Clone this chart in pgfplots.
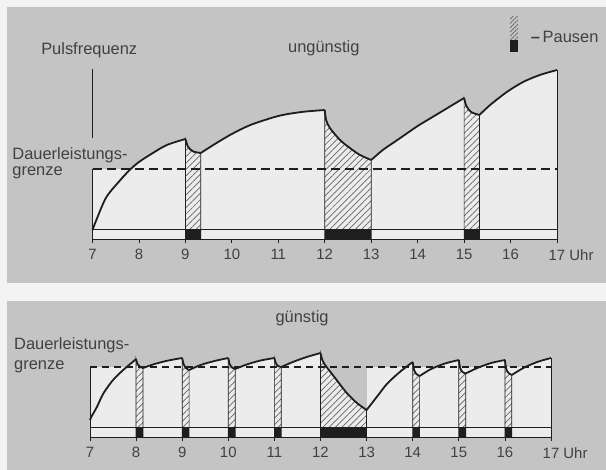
\documentclass[border=0pt]{standalone}
\usepackage{fontspec}
\setmainfont{Liberation Sans}
\usepackage{pgfplots}
\pgfplotsset{compat=1.18}
\usetikzlibrary{patterns.meta}

\definecolor{bg}{RGB}{196,196,196}
\definecolor{paper}{RGB}{236,236,236}
\definecolor{margin}{RGB}{243,243,243}
\definecolor{ink}{RGB}{30,30,30}
\definecolor{txt}{RGB}{65,65,65}
\definecolor{hatchc}{RGB}{100,100,100}

\tikzset{lbl/.style={text=txt, font=\fontsize{16.5}{19}\selectfont}}
\pgfplotsset{
  panel/.style={
    scale only axis, width=599bp,
    axis x line=middle, axis y line=none,
    x axis line style={draw=none},
    axis background/.style={fill=bg},
    xtick={7,...,17},
    xticklabels={7,8,9,10,11,12,13,14,15,16,{17\rlap{ Uhr}}},
    xticklabel style={text=txt, font=\fontsize{15}{17}\selectfont, yshift=-3bp},
    /pgf/number format/assume math mode=true,
    tick align=outside, major tick length=4bp,
    xtick style={ink, line width=0.8bp},
    ytick=\empty,
    clip=false,
  },
  seg/.style={smooth, tension=0.5},
  curve/.style={seg, ink, line width=1.8bp, line join=round},
  wfill/.style={seg, fill=paper, draw=none},
  pause/.style={seg, pattern={Lines[angle=45,distance=4.5bp,line width=0.7bp]}, pattern color=hatchc, draw=ink, line width=0.7bp},
}
\newcommand\wseg[1]{\addplot[wfill] table {#1} \closedcycle;}
\newcommand\pseg[1]{\addplot[wfill] table {#1} \closedcycle; \addplot[pause] table {#1} \closedcycle;}
\newcommand\cseg[1]{\addplot[curve] table {#1};}

% oben: ungünstig
\pgfplotstableread{
t y
7 9
7.1 21
7.3 42
7.6 59
7.8 69
8 77
8.3 86
8.6 94
9 100
}\uA
\pgfplotstableread{
t y
9 100
9.06 92
9.17 87.5
9.33 86
}\uPa
\pgfplotstableread{
t y
9.33 86
9.67 96
10 105
10.4 114
11 123
11.5 127
12 129
}\uB
\pgfplotstableread{
t y
12 129
12.03 119
12.11 111
12.33 99
12.54 91
12.76 84
13 79
}\uPb
\pgfplotstableread{
t y
13 79
13.25 89
13.5 97
13.75 105
14 113
14.25 120
14.5 127
14.75 134
15 141
}\uC
\pgfplotstableread{
t y
15 141
15.05 133
15.15 127
15.33 124
}\uPc
\pgfplotstableread{
t y
15.33 124
15.56 134
15.92 147
16.27 157
16.63 164
17 169
}\uD

% unten: günstig
\pgfplotstableread{
t y
7 17
7.04 21
7.15 30
7.29 43.5
7.5 57
7.72 67
7.9 74
8 78
}\gA
\pgfplotstableread{
t y
8 78
8.03 73
8.08 70.5
8.15 69
}\gPa
\pgfplotstableread{
t y
8.15 69
8.4 73
8.7 76.5
9 79
}\gB
\pgfplotstableread{
t y
9 79
9.03 73
9.08 69
9.15 67
}\gPb
\pgfplotstableread{
t y
9.15 67
9.4 72
9.7 76
10 79
}\gC
\pgfplotstableread{
t y
10 79
10.03 73
10.08 69.5
10.15 68
}\gPc
\pgfplotstableread{
t y
10.15 68
10.4 72.5
10.7 76.5
11 79
}\gD
\pgfplotstableread{
t y
11 79
11.03 74
11.08 71
11.15 70
}\gPd
\pgfplotstableread{
t y
11.15 70
11.4 75
11.7 80
12 84
}\gE
\pgfplotstableread{
t y
12 84
12.04 77
12.1 72
12.2 66
12.35 57
12.57 44
12.79 34
13 27
}\gPe
\pgfplotstableread{
t y
13 27
13.22 40
13.44 53
13.72 65
14 75
}\gF
\pgfplotstableread{
t y
14 75
14.03 67
14.08 63
14.15 61
}\gPf
\pgfplotstableread{
t y
14.15 61
14.4 68
14.7 73.5
15 77
}\gG
\pgfplotstableread{
t y
15 77
15.03 69
15.08 65
15.15 63.5
}\gPg
\pgfplotstableread{
t y
15.15 63.5
15.4 69
15.7 74
16 77
}\gH
\pgfplotstableread{
t y
16 77
16.03 68
16.08 64
16.15 62
}\gPh
\pgfplotstableread{
t y
16.15 62
16.4 69
16.7 75
17 79
}\gI

\begin{document}
\begin{tikzpicture}
\fill[margin] (0,0) rectangle (606bp,470bp);

\begin{axis}[panel, at={(7bp,187bp)}, anchor=south west, height=276bp,
  xmin=5.1593, xmax=18.055, ymin=-44, ymax=232]
  % helle Fläche
  \addplot[fill=paper, draw=none] coordinates {(7,70) (17,70)} \closedcycle;
  \wseg{\uA}\wseg{\uB}\wseg{\uC}\wseg{\uD}
  % Pausen
  \pseg{\uPa}\pseg{\uPb}\pseg{\uPc}
  \addplot[fill=ink, draw=none] coordinates {(9,10) (9.33,10)} \closedcycle;
  \addplot[fill=ink, draw=none] coordinates {(12,10) (13,10)} \closedcycle;
  \addplot[fill=ink, draw=none] coordinates {(15,10) (15.33,10)} \closedcycle;
  % Linien
  \addplot[ink, line width=1.2bp, dash pattern=on 9bp off 5bp] coordinates {(7,70) (17,70)};
  \addplot[ink, line width=0.6bp] coordinates {(7,10) (17,10)};
  \addplot[ink, line width=0.9bp] coordinates {(7,0) (17,0)};
  \addplot[ink, line width=0.9bp] coordinates {(7,0) (7,70)};
  \addplot[ink, line width=0.9bp] coordinates {(17,0) (17,169)};
  \addplot[ink, line width=0.9bp] coordinates {(7,101) (7,170)};
  \cseg{\uA}\cseg{\uPa}\cseg{\uB}\cseg{\uPb}\cseg{\uC}\cseg{\uPc}\cseg{\uD}
  % Legende
  \addplot[pattern={Lines[angle=45,distance=3bp,line width=0.6bp]}, pattern color=hatchc, draw=none]
    coordinates {(15.99,199) (16.16,199) (16.16,222) (15.99,222)};
  \addplot[fill=ink, draw=none] coordinates {(15.99,187) (16.16,187) (16.16,199) (15.99,199)};
  \node[lbl, anchor=west] at (axis cs:16.36,202) {\textbf{–}\,Pausen};
  \node[lbl] at (axis cs:6.93,189) {Pulsfrequenz};
  \node[lbl] at (axis cs:11.98,191) {ungünstig};
  \node[lbl, anchor=west] at (axis cs:5.2,84) {Dauerleistungs-};
  \node[lbl, anchor=west] at (axis cs:5.2,66) {grenze};
\end{axis}

\begin{axis}[panel, at={(7bp,0bp)}, anchor=south west, height=169bp,
  xmin=5.2, xmax=18.193, ymin=-33, ymax=136]
  \addplot[fill=paper, draw=none] coordinates {(7,70) (12,70)} \closedcycle;
  \addplot[fill=paper, draw=none] coordinates {(13,70) (17,70)} \closedcycle;
  \wseg{\gA}\wseg{\gB}\wseg{\gC}\wseg{\gD}\wseg{\gE}\wseg{\gF}\wseg{\gG}\wseg{\gH}\wseg{\gI}
  \pseg{\gPa}\pseg{\gPb}\pseg{\gPc}\pseg{\gPd}\pseg{\gPe}\pseg{\gPf}\pseg{\gPg}\pseg{\gPh}
  \addplot[fill=ink, draw=none] coordinates {(8,10) (8.15,10)} \closedcycle;
  \addplot[fill=ink, draw=none] coordinates {(9,10) (9.15,10)} \closedcycle;
  \addplot[fill=ink, draw=none] coordinates {(10,10) (10.15,10)} \closedcycle;
  \addplot[fill=ink, draw=none] coordinates {(11,10) (11.15,10)} \closedcycle;
  \addplot[fill=ink, draw=none] coordinates {(12,10) (13,10)} \closedcycle;
  \addplot[fill=ink, draw=none] coordinates {(14,10) (14.15,10)} \closedcycle;
  \addplot[fill=ink, draw=none] coordinates {(15,10) (15.15,10)} \closedcycle;
  \addplot[fill=ink, draw=none] coordinates {(16,10) (16.15,10)} \closedcycle;
  \addplot[ink, line width=1.2bp, dash pattern=on 7bp off 5bp] coordinates {(7,70) (17,70)};
  \addplot[ink, line width=0.6bp] coordinates {(7,10) (17,10)};
  \addplot[ink, line width=0.9bp] coordinates {(7,0) (17,0)};
  \addplot[ink, line width=0.9bp] coordinates {(7,0) (7,70)};
  \addplot[ink, line width=0.9bp] coordinates {(17,0) (17,79)};
  \cseg{\gA}\cseg{\gPa}\cseg{\gB}\cseg{\gPb}\cseg{\gC}\cseg{\gPc}\cseg{\gD}\cseg{\gPd}\cseg{\gE}
  \cseg{\gPe}\cseg{\gF}\cseg{\gPf}\cseg{\gG}\cseg{\gPg}\cseg{\gH}\cseg{\gPh}\cseg{\gI}
  \node[lbl] at (axis cs:11.6,119) {günstig};
  \node[lbl, anchor=west] at (axis cs:5.28,92) {Dauerleistungs-};
  \node[lbl, anchor=west] at (axis cs:5.28,70) {grenze};
\end{axis}
\end{tikzpicture}
\end{document}
